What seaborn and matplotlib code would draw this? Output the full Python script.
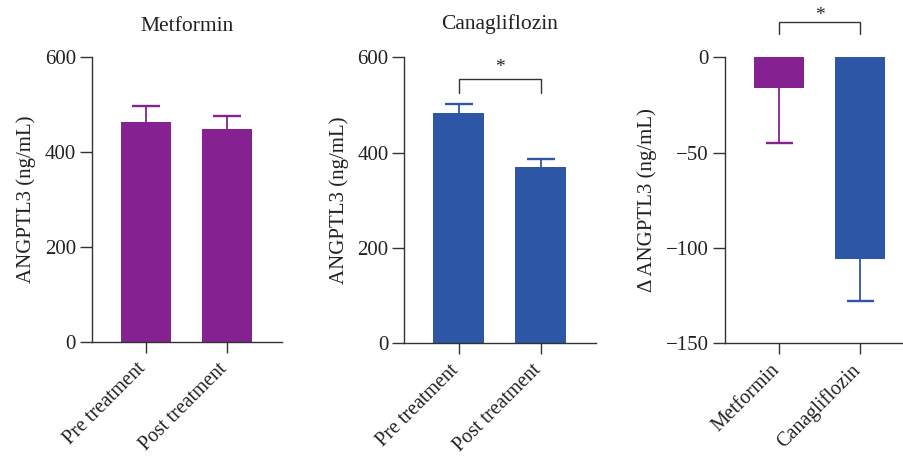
import matplotlib
matplotlib.use("Agg")
import matplotlib.pyplot as plt
import matplotlib.transforms as mtransforms
import seaborn as sns
import pandas as pd

sns.set_style("ticks")
plt.rcParams['font.family'] = ['Liberation Serif', 'DejaVu Serif']
plt.rcParams['axes.unicode_minus'] = True

# ---- data ----
timepoints = ["Pre treatment", "Post treatment"]
metformin_mean = [464, 448]
metformin_sem = [33, 28]
cana_mean = [483, 369]
cana_sem = [19, 17]
drugs = ["Metformin", "Canagliflozin"]
delta_mean = [-16, -106]
delta_sem = [29, 22]
yticks_abs = [0, 200, 400, 600]
yticks_delta = [-150, -100, -50, 0]

PURPLE = "#862191"
BLUE = "#2E56A6"
AX_COL = "#333333"
TXT = "#222222"
FS = 15

fig = plt.figure(figsize=(9.04, 4.57), dpi=100)
ax1 = fig.add_axes([0.1018, 0.2516, 0.2106, 0.6234])
ax2 = fig.add_axes([0.4473, 0.2488, 0.2117, 0.6258])
ax3 = fig.add_axes([0.8017, 0.2488, 0.1983, 0.6258])


def style(ax):
    sns.despine(ax=ax)
    for s in ["left", "bottom"]:
        ax.spines[s].set_color(AX_COL)
        ax.spines[s].set_linewidth(1.0)
    ax.tick_params(axis="y", length=8.5, width=1.0, color=AX_COL,
                   labelsize=FS, labelcolor=TXT, pad=3)
    ax.tick_params(axis="x", length=8, width=1.0, color=AX_COL,
                   labelsize=14.5, labelcolor=TXT, pad=3)
    offset = mtransforms.ScaledTranslation(-0.095, -0.02, fig.dpi_scale_trans)
    for lab in ax.get_xticklabels():
        lab.set_rotation(45)
        lab.set_ha("right")
        lab.set_rotation_mode("anchor")
        lab.set_transform(lab.get_transform() + offset)


def bars(ax, cats, means, errs, colors, up=True):
    df = pd.DataFrame({"cat": cats, "val": means})
    sns.barplot(data=df, x="cat", y="val", hue="cat", palette=colors,
                legend=False, width=0.62, errorbar=None, ax=ax,
                saturation=1, linewidth=0)
    for i, (m, e) in enumerate(zip(means, errs)):
        end = m + e if up else m - e
        ax.plot([i, i], [m, end], color=colors[i], lw=1.3, zorder=1,
                solid_capstyle="butt")
        ax.plot([i - 0.17, i + 0.17], [end, end], color=colors[i], lw=1.7,
                zorder=1, solid_capstyle="butt")


def bracket(ax, x0, x1, y_top, y_leg, y_star):
    ax.plot([x0, x0, x1, x1], [y_leg, y_top, y_top, y_leg], color=AX_COL,
            lw=1.0, clip_on=False)
    ax.text((x0 + x1) / 2, y_star, "*", ha="center", va="center",
            fontsize=14, color=TXT, clip_on=False)


# Panel 1
bars(ax1, timepoints, metformin_mean, metformin_sem, [PURPLE, PURPLE])
ax1.set_ylim(0, 600)
ax1.set_xlim(-0.665, 1.68)
ax1.set_yticks(yticks_abs)
ax1.set_xlabel("")
ax1.set_ylabel("ANGPTL3 (ng/mL)", fontsize=FS, labelpad=6, color=TXT)
ax1.set_title("Metformin", fontsize=15.5, x=(0.5 + 0.665) / (1.68 + 0.665),
              pad=18.5, color=TXT)
style(ax1)

# Panel 2
bars(ax2, timepoints, cana_mean, cana_sem, [BLUE, BLUE])
ax2.set_ylim(0, 600)
ax2.set_xlim(-0.663, 1.67)
ax2.set_yticks(yticks_abs)
ax2.set_xlabel("")
ax2.set_ylabel("ANGPTL3 (ng/mL)", fontsize=FS, labelpad=6, color=TXT)
ax2.set_title("Canagliflozin", fontsize=15.5, x=(0.5 + 0.663) / (1.67 + 0.663),
              pad=20.5, color=TXT)
bracket(ax2, 0, 1, 555, 525, 579)
style(ax2)

# Panel 3
bars(ax3, drugs, delta_mean, delta_sem, [PURPLE, BLUE], up=False)
ax3.set_ylim(-150, 0)
ax3.set_xlim(-0.674, 1.54)
ax3.set_yticks(yticks_delta)
ax3.set_xlabel("")
ax3.set_ylabel("Δ ANGPTL3 (ng/mL)", fontsize=FS, labelpad=6, color=TXT)
bracket(ax3, 0, 1, 18.5, 12, 22)
style(ax3)

fig.savefig("out.png", dpi=100)
